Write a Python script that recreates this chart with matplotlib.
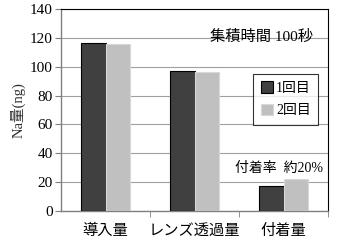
import matplotlib.pyplot as plt
import numpy as np

plt.rcParams['font.family'] = ['Liberation Serif', 'Noto Sans CJK JP']

categories = ["導入量", "レンズ透過量", "付着量"]
series_names = ["1回目", "2回目"]
first = [116.5, 97, 17]
second = [116, 96.5, 22]

fig = plt.figure(figsize=(3.4, 2.45), dpi=100)
ax = fig.add_axes([61 / 340, 34 / 245, 267 / 340, 202 / 245])

x = np.arange(len(categories))
w = 0.28
ax.bar(x - w / 2, first, width=w, color="#404040", edgecolor="black", lw=0.8,
       label=series_names[0], zorder=3)
ax.bar(x + w / 2, second, width=w, color="#c0c0c0", edgecolor="#d8d8d8", lw=0.8,
       label=series_names[1], zorder=3)

ax.set_xlim(-0.5, 2.5)
ax.set_ylim(0, 140)
ax.set_yticks(range(0, 141, 20))
ax.yaxis.grid(True, color="#a0a0a0", lw=0.8, zorder=0)
ax.set_xticks(x)
ax.set_xticklabels(categories, fontsize=11)
ax.set_xticks([0.5, 1.5, 2.5], minor=True)
ax.tick_params(axis="x", which="major", length=0, pad=9)
ax.tick_params(axis="x", which="minor", length=4, color="#808080")
ax.tick_params(axis="y", labelsize=11, length=4, color="#808080", pad=2)
ax.set_ylabel("Na量(ng)", fontsize=10.5, color="#303030", labelpad=3)

for side in ("left", "bottom"):
    ax.spines[side].set_color("#808080")
    ax.spines[side].set_linewidth(1.0)
for side in ("top", "right"):
    ax.spines[side].set_color("black")
    ax.spines[side].set_linewidth(0.8)

ax.text(0.945, 0.86, "集積時間 100秒", transform=ax.transAxes, ha="right",
        va="center", fontsize=11)
ax.text(1.95, 25, "付着率  約20%", ha="center", va="bottom", fontsize=10)

leg = ax.legend(loc="upper right", bbox_to_anchor=(0.99, 0.715), fontsize=10,
                frameon=True, fancybox=False, handlelength=0.9, handleheight=0.9,
                handletextpad=0.2, borderpad=0.55, labelspacing=0.65)
leg.get_frame().set_edgecolor("black")
leg.get_frame().set_linewidth(0.8)

fig.savefig("out.png", dpi=100)
